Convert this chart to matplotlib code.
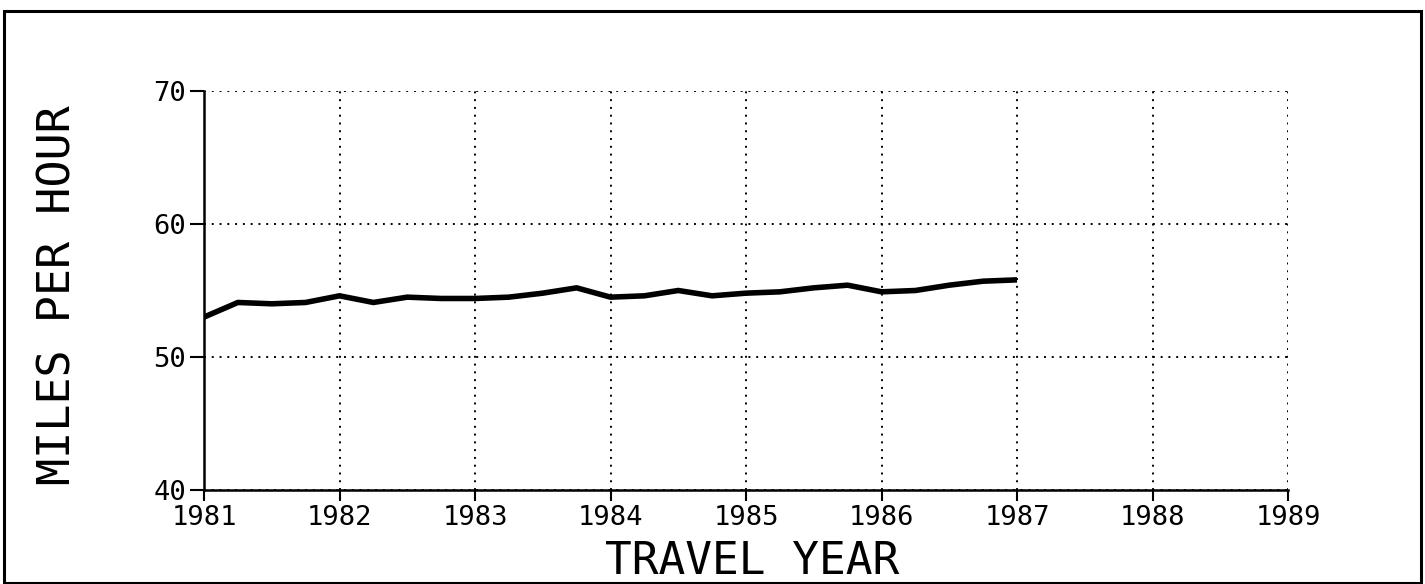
import numpy as np
import matplotlib.pyplot as plt
from matplotlib.patches import Rectangle

# quarterly average speed
years = [1981.00, 1981.25, 1981.50, 1981.75,
         1982.00, 1982.25, 1982.50, 1982.75,
         1983.00, 1983.25, 1983.50, 1983.75,
         1984.00, 1984.25, 1984.50, 1984.75,
         1985.00, 1985.25, 1985.50, 1985.75,
         1986.00, 1986.25, 1986.50, 1986.75,
         1987.00]
mph = [53.0, 54.1, 54.0, 54.1,
       54.6, 54.1, 54.5, 54.4,
       54.4, 54.5, 54.8, 55.2,
       54.5, 54.6, 55.0, 54.6,
       54.8, 54.9, 55.2, 55.4,
       54.9, 55.0, 55.4, 55.7,
       55.8]
xticks = [1981, 1982, 1983, 1984, 1985, 1986, 1987, 1988, 1989]
yticks = [40, 50, 60, 70]

FONT = 'DejaVu Sans Mono'


def main():
    W, H = 1425, 584
    fig = plt.figure(figsize=(W / 100, H / 100), dpi=100)
    ax = fig.add_axes([204 / W, 1 - 490 / H, (1288 - 204) / W, (490 - 91) / H])

    ax.plot(years, mph, color='black', linewidth=4.0, solid_capstyle='butt',
            solid_joinstyle='round')

    ax.set_xlim(1981, 1989)
    ax.set_ylim(40, 70)
    ax.set_xticks(xticks)
    ax.set_yticks(yticks)
    ax.set_xticklabels([str(x) for x in xticks], fontfamily=FONT, fontsize=19.5)
    ax.set_yticklabels([str(y) for y in yticks], fontfamily=FONT, fontsize=19.5)
    ax.tick_params(axis='x', direction='out', length=8, width=1.5, pad=3)
    ax.tick_params(axis='y', direction='out', length=10, width=1.5, pad=3)

    ax.spines['top'].set_visible(False)
    ax.spines['right'].set_visible(False)
    ax.spines['left'].set_linewidth(1.8)
    ax.spines['bottom'].set_linewidth(1.8)
    ax.grid(True, color='black', linestyle=(0, (1, 3)), linewidth=1.4)
    ax.set_axisbelow(True)

    fig.text(58 / W, 1 - 295 / H, 'MILES PER HOUR', rotation=90,
             ha='center', va='center', fontfamily=FONT, fontsize=32.5)
    fig.text(752 / W, 1 - 561 / H, 'TRAVEL YEAR',
             ha='center', va='center', fontfamily=FONT, fontsize=32)

    # outer frame round the whole page
    fig.patches.append(Rectangle((4 / W, 1 / H), 1417 / W, 1 - 12 / H,
                                 transform=fig.transFigure, fill=False,
                                 edgecolor='black', linewidth=2.2))

    fig.savefig('out.png', dpi=100)


if __name__ == '__main__':
    main()
